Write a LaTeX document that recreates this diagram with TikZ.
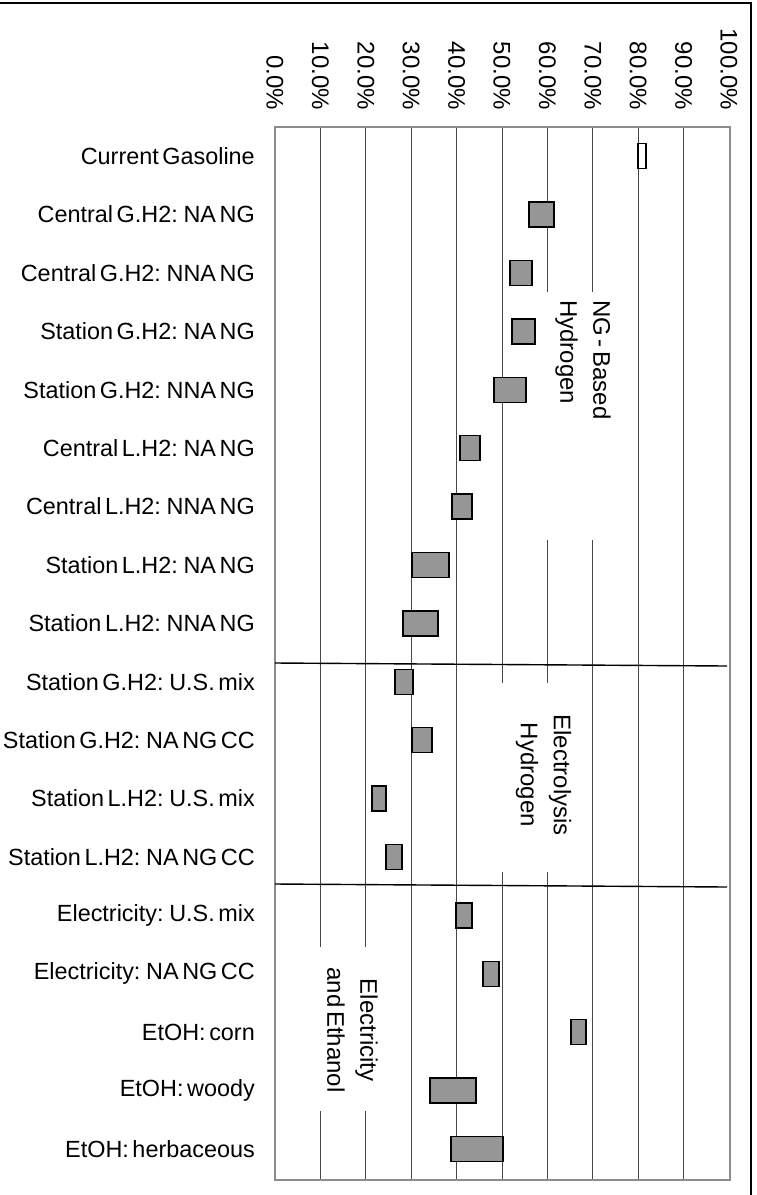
\documentclass[tikz,border=0pt]{standalone}
\usepackage{fontspec}
\setmainfont[WordSpace=0.55]{Liberation Sans}
\definecolor{barfill}{RGB}{150,150,150}
\begin{document}
\begin{tikzpicture}[x=1pt,y=-1pt,
  lbl/.style={anchor=east, inner sep=0pt, font=\fontsize{23.4}{28}\selectfont},
  axl/.style={rotate=-90, anchor=east, inner sep=0pt, font=\fontsize{24}{28}\selectfont},
  gridline/.style={draw=black!72, line width=0.9pt},
  plotframe/.style={draw=black!45, line width=1.6pt},
  barbox/.style={draw=black, line width=1.4pt, fill=barfill},
  sepline/.style={draw=black, line width=1.4pt},
  grp/.style={rotate=-90, inner sep=0pt, font=\fontsize{24}{33}\selectfont},
]
\useasboundingbox (0,0) rectangle (756,1195);
% outer frame (top and right only)
\draw[line width=1.3pt] (0,3) -- (751,3) -- (751,1195);
% gridlines
\foreach \k in {1,...,9} \draw[gridline] ({275+45.4*\k},127) -- ({275+45.4*\k},1180);
% white boxes behind group labels
\fill[white] (540,292) rectangle (622,540);
\fill[white] (494,683) rectangle (578,872);
\fill[white] (314,947) rectangle (386,1111);
% plot frame
\draw[plotframe] (275,127) rectangle (730,1180);
% axis labels
\foreach \k in {0,...,10} {
  \pgfmathtruncatemacro\pp{10*\k}
  \node[axl] (ax\k) at ({275+45.4*\k},110) {\pp.0\%};
}
% category labels
\foreach \i/\t in {0/Current Gasoline,1/Central G.H2: NA NG,2/Central G.H2: NNA NG,3/Station G.H2: NA NG,4/Station G.H2: NNA NG,5/Central L.H2: NA NG,6/Central L.H2: NNA NG,7/Station L.H2: NA NG,8/Station L.H2: NNA NG,9/Station G.H2: U.S. mix,10/Station G.H2: NA NG CC,11/Station L.H2: U.S. mix,12/Station L.H2: NA NG CC,13/Electricity: U.S. mix,14/Electricity: NA NG CC,15/EtOH: corn,16/EtOH: woody,17/EtOH: herbaceous}
  \node[lbl] (cat\i) at (255,{156.2+58.4*\i}) {\t};
% bars
\draw[line width=1.4pt, fill=white] (638,{156.2-12.5}) rectangle (646,{156.2+12.5});
\foreach \i/\a/\b in {1/529/554,2/510/532,3/512/535,4/494/526,5/460/480,6/452/472,7/412/449,8/403/438,9/395/413,10/412/432,11/372/386,12/386/402,13/456/472,14/483/499,15/571/586,16/430/476,17/451/503}
  \draw[barbox] (\a,{156.2+58.4*\i-12.5}) rectangle (\b,{156.2+58.4*\i+12.5});
% separator lines
\coordinate (s1a) at (275,663); \coordinate (s1b) at (727,666);
\coordinate (s2a) at (275,884); \coordinate (s2b) at (727,887);
\draw[sepline] (s1a) -- (s1b);
\draw[sepline] (s2a) -- (s2b);
% group labels
\node[grp, align=left, anchor=north west] (ng) at (611,300) {NG - Based\\Hydrogen};
\node[grp, align=center] (el) at (543.5,775) {Electrolysis\\Hydrogen};
\node[grp, align=center] (ee) at (352.5,1030) {Electricity\\and Ethanol};
\end{tikzpicture}
\end{document}
